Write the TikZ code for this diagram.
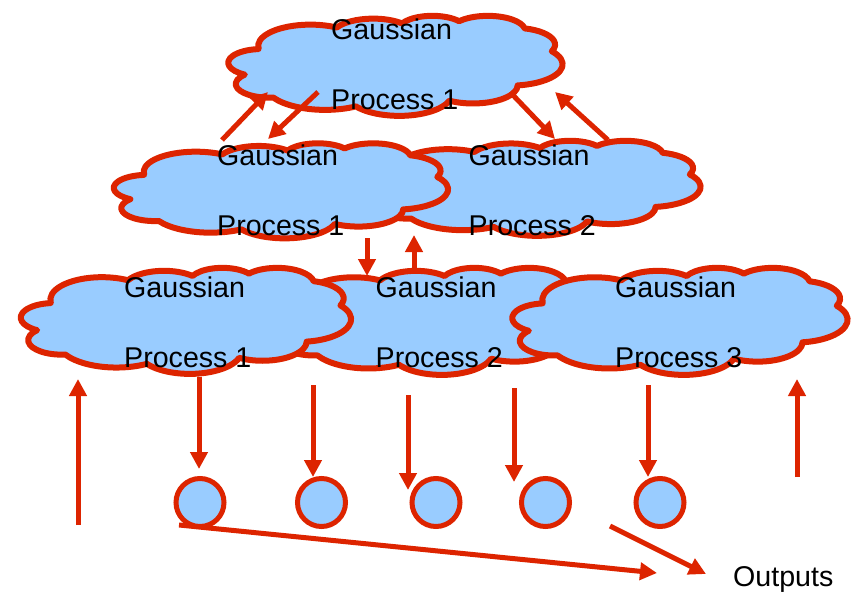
\documentclass[tikz,border=0pt]{standalone}
\usepackage{fontspec}
\setmainfont{Liberation Sans}
\usetikzlibrary{arrows.meta}

\definecolor{gpred}{RGB}{221,36,0}
\definecolor{gpblue}{RGB}{153,204,255}

\tikzset{
  cloudline/.style={draw=gpred, fill=gpblue, line width=6pt, line join=round},
  gparrow/.style={draw=gpred, line width=5pt, -{Triangle[width=17pt,length=17pt]}},
  bubble/.style={circle, draw=gpred, fill=gpblue, line width=5pt,
    minimum size=48pt, inner sep=0pt},
  gptext/.style={inner sep=0pt, anchor=base west,
    font=\fontsize{28.6}{34}\selectfont}
}

% cloud outline in a 100 x 100 box (y down); args: left, top, width/100, height/100
\newcommand{\gpcloud}[4]{%
  \begin{scope}[shift={(#1,#2)}, x=#3pt, y=-#4pt]
    \path[cloudline] (9.028,33.264)
      arc[start angle=-187.75, end angle=-59.64, x radius=15.632, y radius=21.273]
      arc[start angle=-152.01, end angle=-45.45, x radius=12.345, y radius=16.822]
      arc[start angle=-153.50, end angle=-37.34, x radius=10.104, y radius=13.762]
      arc[start angle=-139.72, end angle=-10.22, x radius=11.243, y radius=15.266]
      arc[start angle=-74.77, end angle=23.21, x radius=12.345, y radius=16.836]
      arc[start angle=-37.52, end angle=81.86, x radius=15.683, y radius=21.343]
      arc[start angle=0.46, end angle=121.97, x radius=13.391, y radius=18.211]
      arc[start angle=16.84, end angle=146.22, x radius=15.630, y radius=21.331]
      arc[start angle=58.98, end angle=150.19, x radius=17.870, y radius=24.405]
      arc[start angle=83.31, end angle=223.12, x radius=10.093, y radius=13.699]
      arc[start angle=120.36, end angle=264.11, x radius=10.058, y radius=13.762]
      -- cycle;
  \end{scope}}

\begin{document}
\begin{tikzpicture}[x=1pt, y=-1pt]
  \useasboundingbox (0,0) rectangle (859,594);

  % clouds, back to front
  \gpcloud{228.5}{15.5}{3.34}{1.00}
  \gpcloud{366}{140.5}{3.345}{0.95}
  \gpcloud{114}{143}{3.34}{0.95}
  \gpcloud{273}{267.5}{3.30}{1.07}
  \gpcloud{21}{267.5}{3.30}{1.06}
  \gpcloud{512.5}{267.5}{3.35}{1.07}

  % output bubbles
  \node[bubble] (c1) at (200,502.5) {};
  \node[bubble] (c2) at (321.5,502.5) {};
  \node[bubble] (c3) at (436,502.5) {};
  \node[bubble] (c4) at (545.5,502.5) {};
  \node[bubble] (c5) at (660,502.5) {};

  % arrow end points
  \coordinate (a1s) at (222,140);  \coordinate (a1e) at (268,92);
  \coordinate (a2s) at (318,92);   \coordinate (a2e) at (268,139);
  \coordinate (a3s) at (510,92);   \coordinate (a3e) at (555,139);
  \coordinate (a4s) at (608,140);  \coordinate (a4e) at (555,92);
  \coordinate (a5s) at (367,238);  \coordinate (a5e) at (367,276);
  \coordinate (a6s) at (414,274);  \coordinate (a6e) at (414,235);
  \coordinate (b0s) at (78,525);   \coordinate (b0e) at (78,379);
  \coordinate (b1s) at (199,377);  \coordinate (b1e) at (199,469);
  \coordinate (b2s) at (313,385);  \coordinate (b2e) at (313,477);
  \coordinate (b3s) at (408,395);  \coordinate (b3e) at (408,490);
  \coordinate (b4s) at (514,388);  \coordinate (b4e) at (514,482);
  \coordinate (b5s) at (648,385);  \coordinate (b5e) at (648,477);
  \coordinate (b6s) at (797,477);  \coordinate (b6e) at (797,379);
  \coordinate (o1s) at (179,525);  \coordinate (o1e) at (657,573);
  \coordinate (o2s) at (610,526);  \coordinate (o2e) at (706,574);

  \foreach \a in {a1,a2,a3,a4,a5,a6,b0,b1,b2,b3,b4,b5,b6,o1,o2}
    \draw[gparrow] (\a s) -- (\a e);

  % labels
  \node[gptext] (t1a) at (331,40)    {Gaussian};
  \node[gptext] (t1b) at (331,109)   {Process 1};
  \node[gptext] (t2a) at (217,165)   {Gaussian};
  \node[gptext] (t2b) at (217,235)   {Process 1};
  \node[gptext] (t3a) at (468.5,165) {Gaussian};
  \node[gptext] (t3b) at (468.5,235) {Process 2};
  \node[gptext] (t4a) at (124,297)   {Gaussian};
  \node[gptext] (t4b) at (124,367)   {Process 1};
  \node[gptext] (t5a) at (375.5,297) {Gaussian};
  \node[gptext] (t5b) at (375.5,367) {Process 2};
  \node[gptext] (t6a) at (615,297)   {Gaussian};
  \node[gptext] (t6b) at (615,367)   {Process 3};
  \node[gptext] (out) at (733,586)   {Outputs};
\end{tikzpicture}
\end{document}
